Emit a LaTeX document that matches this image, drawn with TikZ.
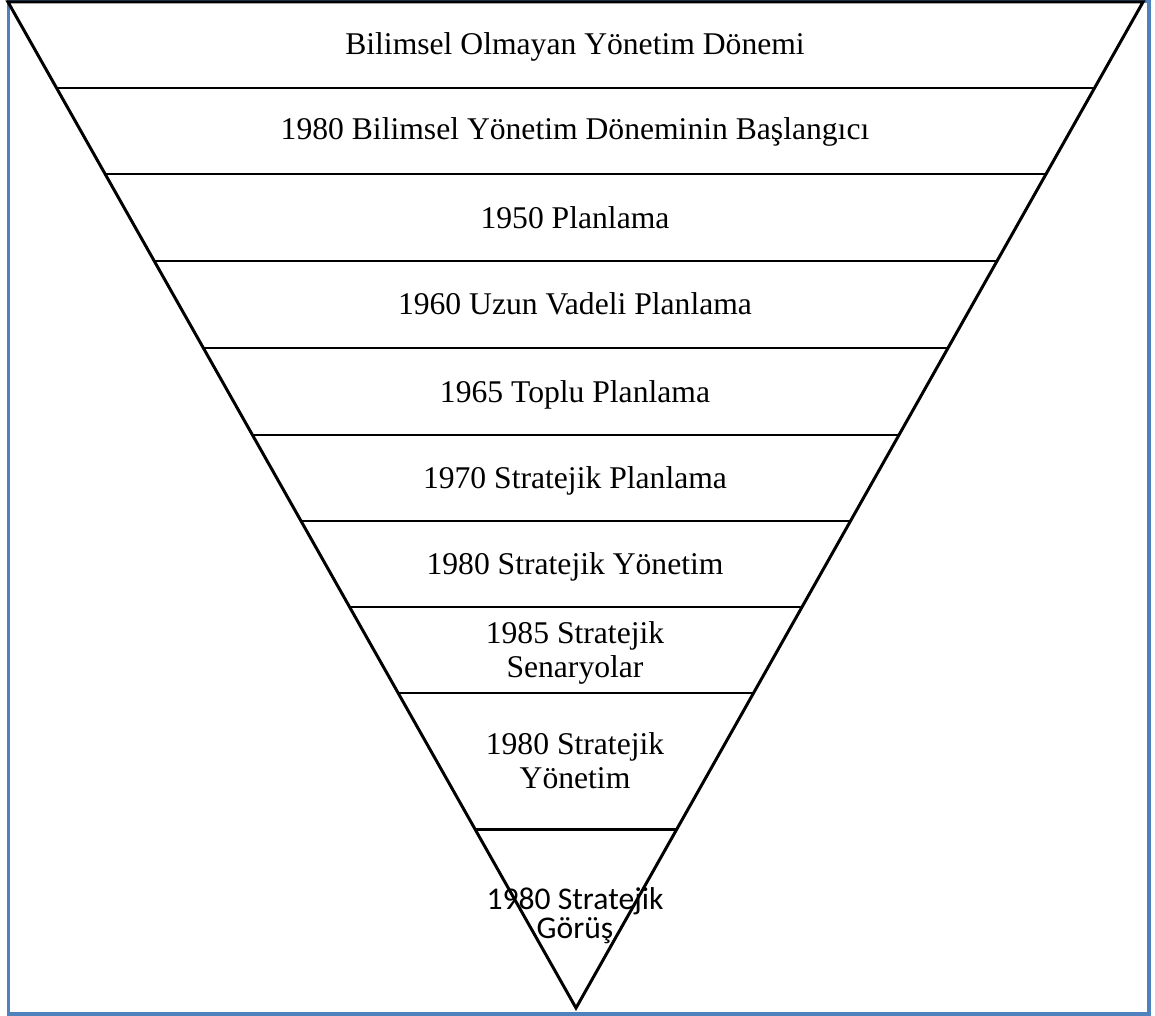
\documentclass[tikz,border=0pt]{standalone}
\usepackage{fontspec}
\setmainfont{Liberation Serif}
\newfontfamily\gorusfont{Carlito}
\definecolor{framebl}{HTML}{4F81BD}
\tikzset{
  band/.style={line width=1.7pt},
  lbl/.style={anchor=base, inner sep=0pt, align=center, font=\fontsize{18}{18.8}\selectfont},
}
\begin{document}
\begin{tikzpicture}[x=0.02cm,y=-0.02cm]
	\useasboundingbox (0,0) rectangle (1155,1016);
	\draw [framebl, line width=1.9pt] (8.5,1.5) rectangle (1149,1014);
	% the funnel
	\draw [band, line join=miter] (8,2) -- (1143,2) -- (576,1008) -- cycle;
	\draw [band] (56.6,88) -- (1094.5,88);
	\draw [band] (105.1,174) -- (1046.1,174);
	\draw [band] (154.2,261) -- (997.0,261);
	\draw [band] (203.4,348) -- (948.0,348);
	\draw [band] (252.5,435) -- (899.0,435);
	\draw [band] (301.0,521) -- (850.5,521);
	\draw [band] (349.6,607) -- (802.0,607);
	\draw [band] (398.1,693) -- (753.5,693);
	\draw [band] (474.9,829) -- (676.9,829);
	% periods (base = last line)
	\node [lbl] (bilimsiz) at (575,55) {Bilimsel Olmayan Yönetim Dönemi};
	\node [lbl] (baslangic) at (575,140) {1980 Bilimsel Yönetim Döneminin Başlangıcı};
	\node [lbl] (planlama) at (575,229) {1950 Planlama};
	\node [lbl] (uzunvade) at (575,315) {1960 Uzun Vadeli Planlama};
	\node [lbl] (toplu) at (575,402) {1965 Toplu Planlama};
	\node [lbl] (strplan) at (575,488) {1970 Stratejik Planlama};
	\node [lbl] (stryon) at (575,574) {1980 Stratejik Yönetim};
	\node [lbl] (senaryo) at (575,677) {1985 Stratejik\\Senaryolar};
	\node [lbl] (stryonb) at (575,788) {1980 Stratejik\\Yönetim};
	\node [lbl, font=\gorusfont\fontsize{18}{14.6}\selectfont] (gorus) at (575,938) {1980 Stratejik\\Görüş};
\end{tikzpicture}
\end{document}
